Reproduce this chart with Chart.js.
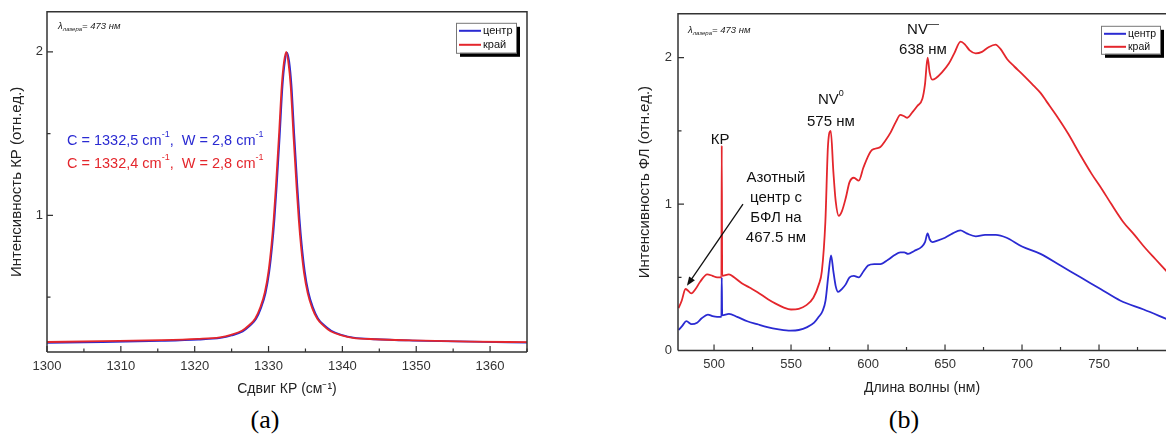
<!DOCTYPE html>
<html><head><meta charset="utf-8">
<script src="https://cdn.jsdelivr.net/npm/chart.js@4/dist/chart.umd.min.js"></script>
<style>
html,body{margin:0;padding:0;background:#fff;width:1166px;height:436px;overflow:hidden;position:relative}
canvas{position:absolute;top:0}
#ca{left:0}
#cb{left:600px}
.cap{position:absolute;font-family:"Liberation Serif","Times New Roman",serif;font-size:26px;line-height:1;color:#000;transform:translate(-50%,-50%);white-space:nowrap}
</style></head><body>
<canvas id="ca" width="560" height="400"></canvas>
<canvas id="cb" width="566" height="400"></canvas>
<div class="cap" style="left:265px;top:420px">(a)</div>
<div class="cap" style="left:904px;top:420px">(b)</div>
<script>
// ---------- DATA ----------
const seriesNames = ['центр', 'край'];

// (a) Raman spectra
const ramanShiftCenter = [1300, 1307.5, 1315.5, 1320.5, 1323.5, 1325, 1326.5, 1327.5, 1328.3, 1329, 1329.6, 1330.1, 1330.5, 1330.8, 1331.1, 1331.5, 1331.9, 1332.2, 1332.5, 1332.8, 1333.1, 1333.5, 1333.9, 1334.2, 1334.5, 1334.9, 1335.4, 1336, 1336.7, 1337.5, 1338.5, 1340, 1341.5, 1344.5, 1349.5, 1357.5, 1365];
const ramanCenter = [0.221, 0.226, 0.233, 0.241, 0.251, 0.266, 0.291, 0.326, 0.366, 0.436, 0.526, 0.656, 0.816, 0.976, 1.176, 1.476, 1.796, 1.936, 1.996, 1.94, 1.80, 1.48, 1.18, 0.98, 0.82, 0.66, 0.53, 0.44, 0.37, 0.33, 0.295, 0.268, 0.253, 0.243, 0.235, 0.228, 0.222];
const ramanShiftEdge = [1300, 1307.4, 1315.4, 1320.4, 1323.4, 1324.9, 1326.4, 1327.4, 1328.2, 1328.9, 1329.5, 1330.0, 1330.4, 1330.7, 1331.0, 1331.4, 1331.8, 1332.1, 1332.4, 1332.7, 1333.0, 1333.4, 1333.8, 1334.1, 1334.4, 1334.8, 1335.3, 1335.9, 1336.6, 1337.4, 1338.4, 1339.9, 1341.4, 1344.4, 1349.4, 1357.4, 1365];
const ramanEdge = [0.226, 0.231, 0.237, 0.245, 0.255, 0.27, 0.295, 0.33, 0.37, 0.44, 0.53, 0.66, 0.82, 0.98, 1.18, 1.48, 1.80, 1.94, 2.00, 1.93, 1.79, 1.47, 1.17, 0.97, 0.81, 0.65, 0.525, 0.435, 0.368, 0.328, 0.292, 0.267, 0.252, 0.243, 0.236, 0.229, 0.225];

// (b) Photoluminescence spectra
const wavelengthCenter = [477, 479.5, 482, 485.5, 489, 492, 496, 499, 502, 504.8, 505, 505.3, 509.7, 515, 521.6, 528, 534.6, 542, 549.7, 555, 560.5, 565, 568, 570.5, 572.4, 574.3, 576, 577.5, 579, 580.6, 583, 585.4, 588, 590.8, 594, 597, 600, 604, 608, 613, 617, 621, 623.5, 626, 630, 635, 637, 638.7, 640, 641.7, 645, 650, 655, 660, 664, 670, 676, 683, 690, 700, 712, 725, 738, 751, 764, 779, 794];
const plCenter = [0.14, 0.17, 0.20, 0.18, 0.19, 0.22, 0.245, 0.235, 0.23, 0.23, 0.50, 0.24, 0.25, 0.23, 0.20, 0.18, 0.16, 0.145, 0.136, 0.14, 0.16, 0.19, 0.23, 0.27, 0.34, 0.52, 0.65, 0.54, 0.44, 0.40, 0.42, 0.45, 0.50, 0.51, 0.50, 0.54, 0.58, 0.59, 0.59, 0.62, 0.65, 0.67, 0.67, 0.66, 0.68, 0.71, 0.74, 0.80, 0.76, 0.74, 0.75, 0.77, 0.80, 0.82, 0.80, 0.78, 0.79, 0.79, 0.77, 0.71, 0.66, 0.58, 0.50, 0.42, 0.34, 0.28, 0.215];
const wavelengthEdge = [477, 479, 481.5, 483, 485.2, 488, 491, 495.6, 499, 502, 504.8, 505, 505.3, 509.7, 513, 518, 523, 528, 535, 540, 545, 550, 555, 560, 564.5, 568, 570, 572.3, 574, 575.8, 577.5, 579, 581, 583, 585.5, 588, 590.8, 594, 597, 601.7, 605, 608, 611, 614.7, 618, 621, 623.5, 625.5, 629, 632, 635.3, 637, 638.7, 640, 641.7, 644, 648, 652.5, 656, 660.1, 663, 666, 669.9, 674, 678, 682.8, 686, 690.4, 695, 700, 707.5, 712, 716, 722, 730, 737.6, 745, 752, 758, 765.6, 773, 780, 787, 794];
const plEdge = [0.29, 0.34, 0.42, 0.41, 0.39, 0.42, 0.47, 0.52, 0.51, 0.50, 0.50, 1.40, 0.51, 0.52, 0.50, 0.46, 0.43, 0.40, 0.35, 0.32, 0.295, 0.28, 0.285, 0.31, 0.36, 0.45, 0.54, 0.88, 1.40, 1.50, 1.22, 1.02, 0.92, 0.95, 1.04, 1.15, 1.18, 1.16, 1.25, 1.36, 1.38, 1.39, 1.43, 1.49, 1.56, 1.61, 1.60, 1.59, 1.63, 1.67, 1.72, 1.82, 2.00, 1.90, 1.85, 1.86, 1.90, 1.96, 2.03, 2.11, 2.09, 2.05, 2.03, 2.04, 2.07, 2.09, 2.06, 1.99, 1.94, 1.89, 1.81, 1.76, 1.70, 1.61, 1.48, 1.34, 1.21, 1.10, 1.00, 0.88, 0.79, 0.70, 0.62, 0.54];

// ---------- STYLE ----------
const BLUE = '#2a2ad2';
const RED = '#e4262c';
const FONT = '"Liberation Sans", Arial, sans-serif';
const AXIS = '#333';

function pts(xs, ys) { return xs.map((x, i) => ({x: x, y: ys[i]})); }

function drawRich(ctx, parts, x, y, align, size, color, style) {
  const fonts = parts.map(p => {
    const s = (p.sup || p.sub) ? (p.small || Math.round(size * 0.62)) : size;
    return (style || '') + ' ' + s + 'px ' + FONT;
  });
  const widths = parts.map((p, i) => { ctx.font = fonts[i]; return ctx.measureText(p.t).width; });
  const total = widths.reduce((a, b) => a + b, 0);
  let cx = align === 'center' ? x - total / 2 : x;
  ctx.textAlign = 'left';
  ctx.textBaseline = 'middle';
  ctx.fillStyle = color;
  parts.forEach((p, i) => {
    ctx.font = fonts[i];
    const dy = p.sup ? -size * 0.4 : (p.sub ? size * 0.32 : 0);
    ctx.fillText(p.t, cx, y + dy);
    cx += widths[i];
  });
}

const decorPlugin = {
  id: 'decor',
  afterDatasetsDraw(chart, args, o) {
    const {ctx, chartArea: a, scales} = chart;
    const sx = scales.x, sy = scales.y;
    ctx.save();
    // frame
    ctx.strokeStyle = AXIS;
    ctx.lineWidth = 1.5;
    ctx.beginPath();
    ctx.moveTo(a.left, a.bottom); ctx.lineTo(a.left, a.top); ctx.lineTo(a.right, a.top);
    if (o.rightBorder) ctx.lineTo(a.right, a.bottom);
    ctx.moveTo(a.left, a.bottom); ctx.lineTo(a.right, a.bottom);
    ctx.stroke();
    // inward ticks (major + minor)
    ctx.lineWidth = 1.2;
    ctx.beginPath();
    const tk = o.ticks;
    let v0 = Math.ceil(sx.min / tk.xMinor - 1e-9) * tk.xMinor;
    for (let v = v0; v <= sx.max + 1e-9; v += tk.xMinor) {
      const major = Math.abs(v / tk.xMajor - Math.round(v / tk.xMajor)) < 1e-6;
      const px = sx.getPixelForValue(v);
      ctx.moveTo(px, a.bottom); ctx.lineTo(px, a.bottom - (major ? 6 : 3.5));
    }
    v0 = Math.ceil(sy.min / tk.yMinor - 1e-9) * tk.yMinor;
    for (let v = v0; v <= sy.max + 1e-9; v += tk.yMinor) {
      const major = Math.abs(v / tk.yMajor - Math.round(v / tk.yMajor)) < 1e-6;
      const py = sy.getPixelForValue(v);
      ctx.moveTo(a.left, py); ctx.lineTo(a.left + (major ? 6 : 3.5), py);
    }
    ctx.stroke();
    // annotations
    (o.notes || []).forEach(n => {
      drawRich(ctx, n.parts, sx.getPixelForValue(n.x), sy.getPixelForValue(n.y), n.align, n.size, n.color, n.style);
    });
    // arrows
    (o.arrows || []).forEach(ar => {
      const x1 = sx.getPixelForValue(ar.from[0]), y1 = sy.getPixelForValue(ar.from[1]);
      const x2 = sx.getPixelForValue(ar.to[0]), y2 = sy.getPixelForValue(ar.to[1]);
      const ang = Math.atan2(y2 - y1, x2 - x1);
      const hl = 9, hw = 3.5;
      ctx.strokeStyle = '#111'; ctx.fillStyle = '#111'; ctx.lineWidth = 1.3;
      ctx.beginPath();
      ctx.moveTo(x1, y1);
      ctx.lineTo(x2 - Math.cos(ang) * hl * 0.8, y2 - Math.sin(ang) * hl * 0.8);
      ctx.stroke();
      ctx.beginPath();
      ctx.moveTo(x2, y2);
      ctx.lineTo(x2 - Math.cos(ang) * hl + Math.sin(ang) * hw, y2 - Math.sin(ang) * hl - Math.cos(ang) * hw);
      ctx.lineTo(x2 - Math.cos(ang) * hl - Math.sin(ang) * hw, y2 - Math.sin(ang) * hl + Math.cos(ang) * hw);
      ctx.closePath();
      ctx.fill();
    });
    // legend with shadow
    const L = o.legend;
    const bx = a.right - L.right - L.w, by = a.top + L.top;
    ctx.fillStyle = '#000';
    ctx.fillRect(bx + 4, by + 4, L.w, L.h);
    ctx.fillStyle = '#fff';
    ctx.fillRect(bx, by, L.w, L.h);
    ctx.strokeStyle = '#777'; ctx.lineWidth = 1;
    ctx.strokeRect(bx + 0.5, by + 0.5, L.w, L.h);
    chart.data.datasets.forEach((ds, i) => {
      const ly = by + L.y0 + i * L.dy;
      ctx.strokeStyle = ds.borderColor; ctx.lineWidth = 2;
      ctx.beginPath(); ctx.moveTo(bx + 3, ly); ctx.lineTo(bx + 25, ly); ctx.stroke();
      ctx.fillStyle = '#111'; ctx.font = L.font + 'px ' + FONT;
      ctx.textAlign = 'left'; ctx.textBaseline = 'middle';
      ctx.fillText(ds.label, bx + 27, ly);
    });
    ctx.restore();
  }
};

function makeChart(id, cfg) {
  return new Chart(document.getElementById(id), {
    type: 'line',
    data: {
      datasets: [
        {label: seriesNames[0], data: cfg.blue, borderColor: BLUE, borderWidth: 1.8, pointRadius: 0, cubicInterpolationMode: 'monotone', order: 1},
        {label: seriesNames[1], data: cfg.red, borderColor: RED, borderWidth: 1.8, pointRadius: 0, cubicInterpolationMode: 'monotone', order: 0}
      ]
    },
    options: {
      responsive: false,
      animation: false,
      events: [],
      layout: {padding: cfg.padding},
      plugins: {
        legend: {display: false},
        tooltip: {enabled: false},
        decor: cfg.decor
      },
      scales: {
        x: {
          type: 'linear', min: cfg.xMin, max: cfg.xMax,
          grid: {display: false, drawTicks: false},
          border: {display: false},
          ticks: {stepSize: cfg.xStep, includeBounds: false, autoSkip: false, maxRotation: 0, padding: cfg.xPad, color: AXIS,
                  font: {family: FONT, size: 13},
                  callback: v => String(v)},
          title: {display: true, text: cfg.xTitle, color: '#222', font: {family: FONT, size: 14}, padding: {top: 0, bottom: cfg.xTitlePad}},
          afterFit: s => { s.height = cfg.xHeight; }
        },
        y: {
          type: 'linear', min: cfg.yMin, max: cfg.yMax,
          grid: {display: false, drawTicks: false},
          border: {display: false},
          ticks: {stepSize: 1, includeBounds: false, autoSkip: false, padding: cfg.yPad, color: AXIS,
                  font: {family: FONT, size: 13},
                  callback: v => String(v)},
          title: {display: true, text: cfg.yTitle, color: '#222', font: {family: FONT, size: 15}, padding: {top: cfg.yTitlePad, bottom: 0}},
          afterFit: s => { s.width = cfg.yWidth; }
        }
      }
    },
    plugins: [decorPlugin]
  });
}

const lambdaParts = [{t: 'λ'}, {t: 'лазера', sub: true, small: 6}, {t: '= 473 нм'}];

makeChart('ca', {
  blue: pts(ramanShiftCenter, ramanCenter),
  red: pts(ramanShiftEdge, ramanEdge),
  xMin: 1300, xMax: 1365, xStep: 10, yMin: 0.165, yMax: 2.245,
  padding: {left: 0, top: 11, right: 33, bottom: 0},
  xHeight: 48, yWidth: 47, xPad: 7, yPad: 4, xTitlePad: 2.6, yTitlePad: 8,
  xTitle: 'Сдвиг КР (см⁻¹)', yTitle: 'Интенсивность КР (отн.ед.)',
  decor: {
    rightBorder: true,
    ticks: {xMinor: 5, xMajor: 10, yMinor: 0.5, yMajor: 1},
    legend: {right: 11, top: 11, w: 60, h: 30, y0: 8, dy: 14, font: 11},
    notes: [
      {x: 1301.5, y: 2.159, align: 'left', size: 9.5, style: 'italic', color: '#222', parts: lambdaParts},
      {x: 1302.7, y: 1.457, align: 'left', size: 14.5, color: BLUE,
       parts: [{t: 'C = 1332,5 cm'}, {t: '-1', sup: true}, {t: ',  W = 2,8 cm'}, {t: '-1', sup: true}]},
      {x: 1302.7, y: 1.317, align: 'left', size: 14.5, color: RED,
       parts: [{t: 'C = 1332,4 cm'}, {t: '-1', sup: true}, {t: ',  W = 2,8 cm'}, {t: '-1', sup: true}]}
    ]
  }
});

makeChart('cb', {
  blue: pts(wavelengthCenter, plCenter),
  red: pts(wavelengthEdge, plEdge),
  xMin: 476.6, xMax: 793.5, xStep: 50, yMin: 0, yMax: 2.3,
  padding: {left: 0, top: 12, right: 0, bottom: 0},
  xHeight: 49.5, yWidth: 78, xPad: 6, yPad: 6, xTitlePad: 3.6, yTitlePad: 36,
  xTitle: 'Длина волны (нм)', yTitle: 'Интенсивность ФЛ (отн.ед.)',
  decor: {
    rightBorder: false,
    ticks: {xMinor: 25, xMajor: 50, yMinor: 0.5, yMajor: 1},
    legend: {right: 6, top: 12, w: 59, h: 28, y0: 8, dy: 13, font: 10.5},
    notes: [
      {x: 483.1, y: 2.19, align: 'left', size: 9.5, style: 'italic', color: '#222', parts: lambdaParts},
      {x: 503.9, y: 1.44, align: 'center', size: 15, color: '#111', parts: [{t: 'КР'}]},
      {x: 540.2, y: 1.177, align: 'center', size: 15, color: '#111', parts: [{t: 'Азотный'}]},
      {x: 540.2, y: 1.041, align: 'center', size: 15, color: '#111', parts: [{t: 'центр с'}]},
      {x: 540.2, y: 0.905, align: 'center', size: 15, color: '#111', parts: [{t: 'БФЛ на'}]},
      {x: 540.2, y: 0.769, align: 'center', size: 15, color: '#111', parts: [{t: '467.5 нм'}]},
      {x: 575.9, y: 1.714, align: 'center', size: 15, color: '#111', parts: [{t: 'NV'}, {t: '0', sup: true}]},
      {x: 575.9, y: 1.565, align: 'center', size: 15, color: '#111', parts: [{t: '575 нм'}]},
      {x: 635.7, y: 2.19, align: 'center', size: 15, color: '#111', parts: [{t: 'NV'}, {t: '—', sup: true, small: 11}]},
      {x: 635.7, y: 2.054, align: 'center', size: 15, color: '#111', parts: [{t: '638 нм'}]}
    ],
    arrows: [{from: [518.8, 1.0], to: [482.4, 0.442]}]
  }
});
</script>
</body></html>
